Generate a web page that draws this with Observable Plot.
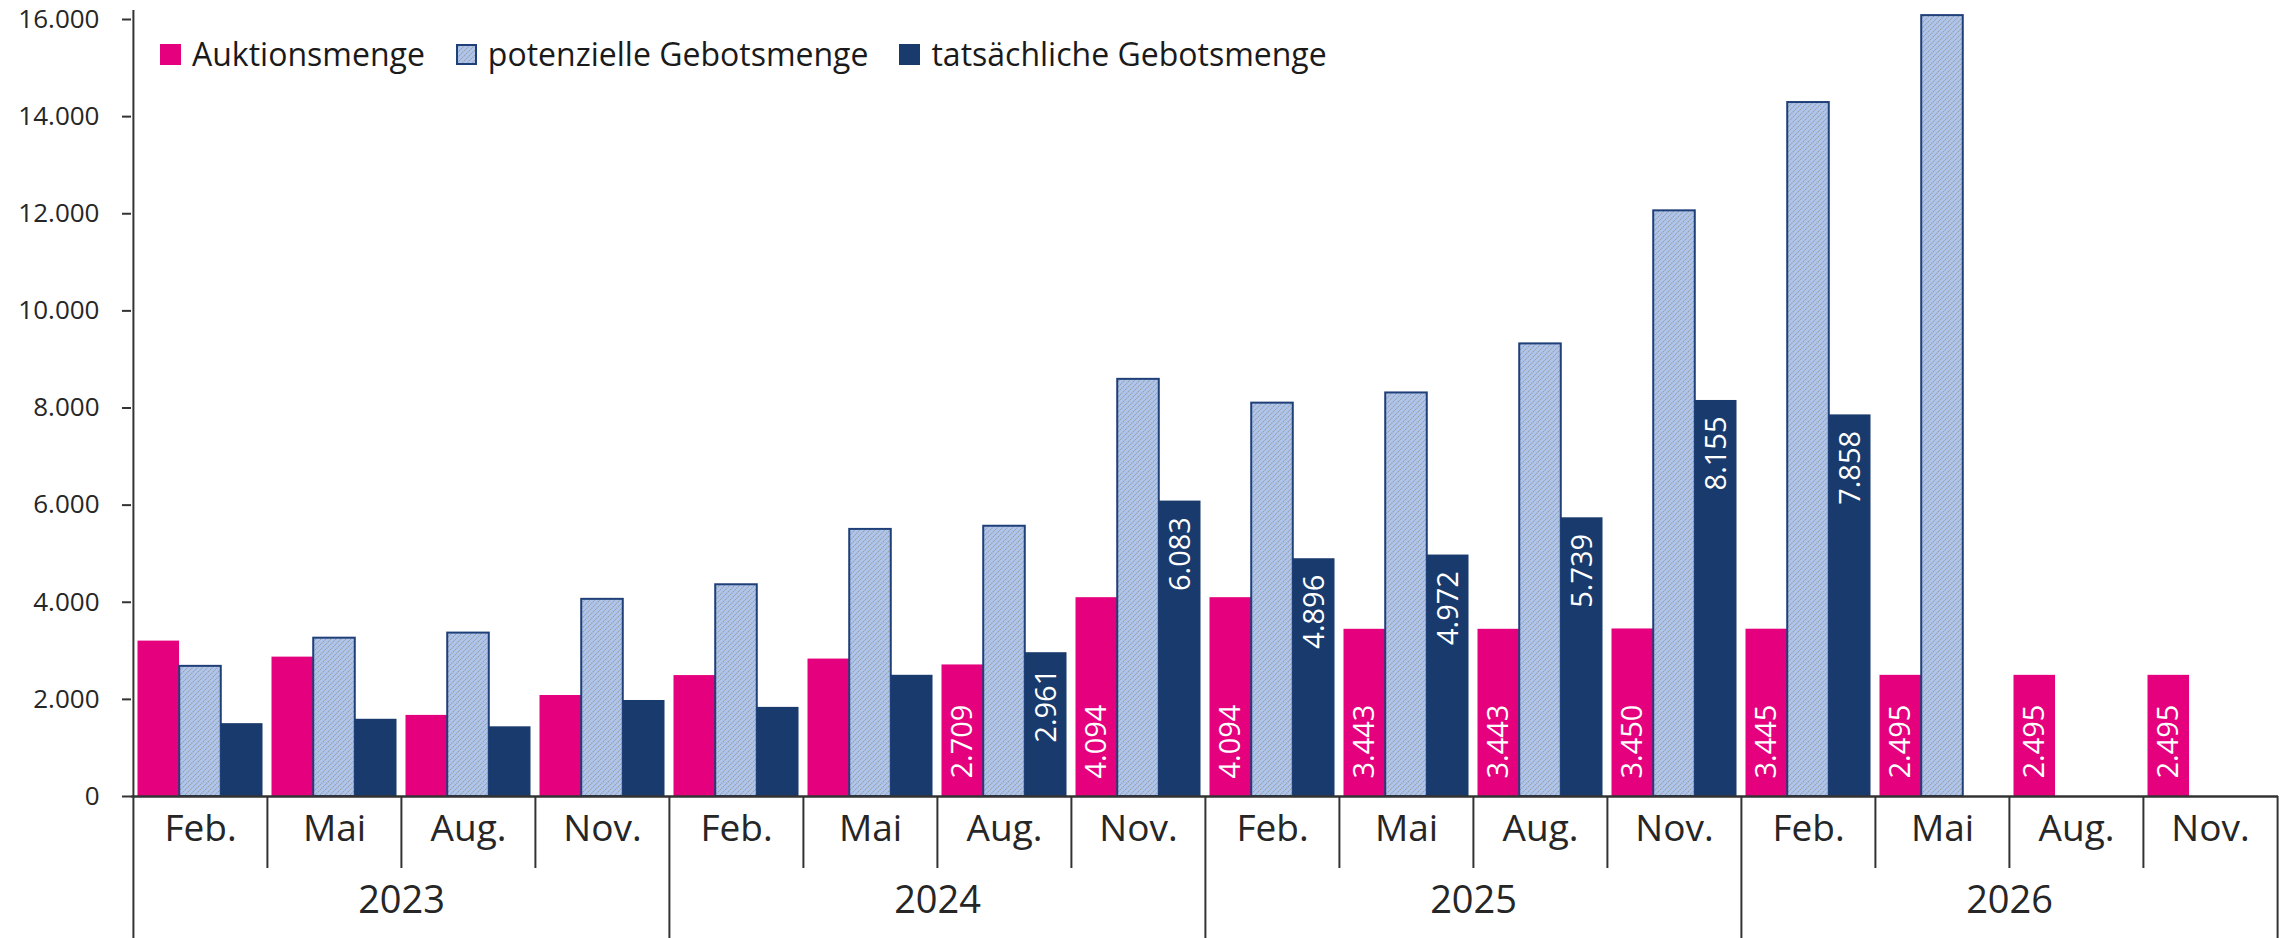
<!DOCTYPE html>
<html><head><meta charset="utf-8">
<script src="https://cdn.jsdelivr.net/npm/d3@7"></script>
<script src="https://cdn.jsdelivr.net/npm/@observablehq/plot@0.6"></script>
<style>
body{margin:0;background:#fff;}
#wrap{position:relative;width:2290px;height:938px;font-family:"Open Sans",sans-serif;}
#legend{position:absolute;left:160px;top:38px;display:flex;align-items:center;font-size:32px;line-height:1;color:#1a1a1a;}
.item{display:flex;align-items:center;margin-right:31px;}
.sw{width:21px;height:21px;margin-right:11px;display:block}
</style></head>
<body>
<svg width="0" height="0" style="position:absolute">
 <defs>
  <pattern id="hatch" patternUnits="userSpaceOnUse" width="5" height="5">
    <rect width="5" height="5" fill="#aec6ee"/>
    <path d="M-1,1 L1,-1 M0,5 L5,0 M4,6 L6,4" stroke="#9a9a9a" stroke-width="1.1" stroke-dasharray="1.2 0.9"/>
  </pattern>
 </defs>
</svg>
<div id="wrap"><div id="legend"></div></div>
<script>
// ---- data ----
const years = ["2023", "2024", "2025", "2026"];
const months = ["Feb.", "Mai", "Aug.", "Nov."];
const seriesNames = ["Auktionsmenge", "potenzielle Gebotsmenge", "tatsächliche Gebotsmenge"];
const auktionsmenge = [3200, 2870, 1670, 2080, 2490, 2830, 2709, 4094, 4094, 3443, 3443, 3450, 3445, 2495, 2495, 2495];
const potenzielle   = [2680, 3260, 3365, 4060, 4360, 5500, 5565, 8590, 8100, 8310, 9320, 12060, 14290, 16080, null, null];
const tatsaechliche = [1500, 1590, 1435, 1977, 1835, 2496, 2961, 6083, 4896, 4972, 5739, 8155, 7858, null, null, null];
const yTicks = [0, 2000, 4000, 6000, 8000, 10000, 12000, 14000, 16000];
const labelFrom = 6; // value labels shown from 2024 Aug onward

const pink = "#e5007d", navy = "#183a6d", blueStroke = "#1f3f78", ink = "#262626";
const fmt = d3.formatLocale({decimal: ",", thousands: ".", grouping: [3], currency: ["", "€"]}).format(",");

const keys = years.flatMap(y => months.map(m => y + " " + m));
const rows = keys.map((k, i) => ({key: k, i, year: years[Math.floor(i / 4)], month: months[i % 4],
  a: auktionsmenge[i], p: potenzielle[i], t: tatsaechliche[i]}));

const W = 2290, H = 938, mL = 131, mR = 12, mT = 19, mB = 142;
const frameH = H - mT - mB;
const step = (W - mL - mR) / keys.length;
const gap = 0.067;
const bw = step * (1 - gap) / 3, edge = step * gap / 2;

const chart = Plot.plot({
  width: W, height: H,
  marginLeft: mL, marginRight: mR, marginTop: mT, marginBottom: mB,
  style: {fontFamily: "Open Sans, sans-serif", fontSize: "26px", color: ink, background: "white"},
  x: {domain: keys, padding: 0, axis: null},
  y: {domain: [0, 16000], axis: null},
  marks: [
    Plot.barY(rows.filter(d => d.a != null), {x: "key", y: "a", fill: pink, insetLeft: edge, insetRight: step - edge - bw}),
    Plot.barY(rows.filter(d => d.p != null), {x: "key", y: "p", fill: "url(#hatch)", stroke: blueStroke, strokeWidth: 2, insetLeft: edge + bw, insetRight: edge + bw}),
    Plot.barY(rows.filter(d => d.t != null), {x: "key", y: "t", fill: navy, insetLeft: edge + 2 * bw, insetRight: edge}),
    Plot.axisY({ticks: yTicks, tickSize: 9, tickPadding: 23, tickFormat: fmt, fontSize: 26, strokeWidth: 2, stroke: "#333"}),
    // y axis line (continues down as first year separator)
    Plot.ruleX([keys[0]], {x: d => d, dx: -step / 2, insetTop: -9, insetBottom: -mB, stroke: "#333", strokeWidth: 2}),
    Plot.ruleY([0], {stroke: "#333", strokeWidth: 2.5}),
    // month separators
    Plot.ruleX(rows.filter(d => d.i % 4 !== 0), {x: "key", dx: -step / 2, insetTop: frameH, insetBottom: -72, stroke: "#333", strokeWidth: 2}),
    // year separators
    Plot.ruleX(rows.filter(d => d.i % 4 === 0 && d.i > 0), {x: "key", dx: -step / 2, insetTop: frameH, insetBottom: -mB, stroke: "#333", strokeWidth: 2}),
    Plot.ruleX([keys[keys.length - 1]], {x: d => d, dx: step / 2, insetTop: frameH, insetBottom: -mB, stroke: "#333", strokeWidth: 2}),
    Plot.text(rows, {x: "key", text: "month", frameAnchor: "bottom", dy: 44, fontSize: 37, fill: ink}),
    Plot.text(rows.filter(d => d.i % 4 === 1), {x: "key", text: "year", frameAnchor: "bottom", dx: step / 2, dy: 116, fontSize: 38, fill: ink}),
    // value labels
    Plot.text(rows.filter(d => d.i >= labelFrom && d.a != null), {x: "key", y: d => 0, text: d => fmt(d.a), rotate: -90, textAnchor: "start", dx: -bw, dy: -18, fill: "white", fontSize: 29}),
    Plot.text(rows.filter(d => d.i >= labelFrom && d.t != null), {x: "key", y: "t", text: d => fmt(d.t), rotate: -90, textAnchor: "end", dx: bw, dy: 16, fill: "white", fontSize: 29})
  ]
});
const wrap = document.getElementById("wrap");
wrap.insertBefore(chart, wrap.firstChild);

// legend
const legend = document.getElementById("legend");
const swatches = [
  `<svg class="sw" viewBox="0 0 21 21"><rect width="21" height="21" fill="${pink}"/></svg>`,
  `<svg class="sw" viewBox="0 0 21 21"><rect x="1" y="1" width="19" height="19" fill="url(#hatch)" stroke="${blueStroke}" stroke-width="2"/></svg>`,
  `<svg class="sw" viewBox="0 0 21 21"><rect width="21" height="21" fill="${navy}"/></svg>`
];
seriesNames.forEach((n, i) => {
  const it = document.createElement("div");
  it.className = "item";
  it.innerHTML = swatches[i] + `<span>${n}</span>`;
  legend.appendChild(it);
});
</script>
</body></html>
